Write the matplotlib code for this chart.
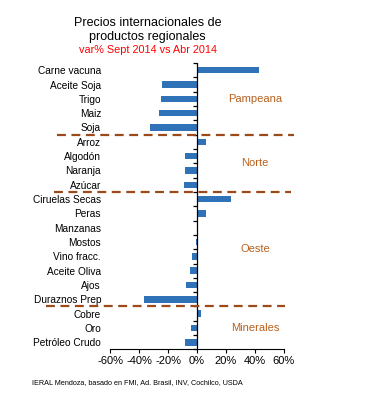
import numpy as np
import matplotlib
matplotlib.use('Agg')
import matplotlib.pyplot as plt

# data (var% Sept 2014 vs Abr 2014)
productos = ['Carne vacuna', 'Aceite Soja', 'Trigo', 'Maiz', 'Soja',
             'Arroz', 'Algodón', 'Naranja', 'Azúcar',
             'Ciruelas Secas', 'Peras', 'Manzanas', 'Mostos', 'Vino fracc.',
             'Aceite Oliva', 'Ajos', 'Duraznos Prep',
             'Cobre', 'Oro', 'Petróleo Crudo']
variacion = [42.5, -24, -25, -26.5, -32.5,
             6.5, -8, -8.5, -9,
             23.5, 6.5, 1, -0.5, -3.5,
             -5, -7.5, -36.5,
             3, -4, -8]
regiones = ['Pampeana', 'Norte', 'Oeste', 'Minerales']
region_size = [5, 4, 8, 3]
xticks = [-60, -40, -20, 0, 20, 40, 60]

plt.rcParams['font.family'] = ['Liberation Sans', 'DejaVu Sans']

fig = plt.figure(figsize=(3.72, 4.04), dpi=100)
ax = fig.add_axes([0.296, 0.135, 0.467, 0.709])

y = np.arange(len(productos))
ax.barh(y, variacion, height=0.45, color='#2F72B8')
ax.set_ylim(len(productos) - 0.5, -0.5)
ax.set_xlim(-60, 60)

# spines: only the zero line and the bottom axis
for s in ['top', 'right', 'left']:
    ax.spines[s].set_visible(False)
ax.spines['bottom'].set_linewidth(0.8)
ax.axvline(0, color='black', lw=0.9)

ax.set_xticks(xticks)
ax.set_xticklabels([f'{t}%' for t in xticks], fontsize=8)
ax.tick_params(axis='x', length=3, width=0.8, pad=2)

ax.set_yticks(y)
ax.set_yticklabels(productos, fontsize=7.3)
ax.tick_params(axis='y', length=0, pad=6.5)

# small tick marks on the zero line at category boundaries
bounds = np.arange(len(productos) + 1) - 0.5
ax.plot(np.full_like(bounds, -1.5), bounds, ls='none', marker='_',
        ms=3, mew=0.9, color='black', clip_on=False)

# region separators and labels
brown = '#9C4A1A'
sep_x = [(-97, 67), (-99, 65), (-104, 61)]
start = 0
for i, (reg, n) in enumerate(zip(regiones, region_size)):
    mid = start + (n - 1) / 2
    ax.text(40, mid, reg, color='#B8601E', fontsize=8, ha='center', va='center')
    start += n
    if i < len(sep_x):
        x0, x1 = sep_x[i]
        ax.plot([x0, x1], [start - 0.5, start - 0.5], color=brown, lw=1.6,
                ls=(0, (4, 2.5)), clip_on=False)

fig.text(0.397, 0.943, 'Precios internacionales de',
         ha='center', va='center', fontsize=9)
fig.text(0.397, 0.908, 'productos regionales',
         ha='center', va='center', fontsize=9)
fig.text(0.397, 0.876, 'var% Sept 2014 vs Abr 2014', color='red',
         ha='center', va='center', fontsize=7.8)
fig.text(0.086, 0.054, 'IERAL Mendoza, basado en FMI, Ad. Brasil, INV, Cochilco, USDA',
         fontsize=5.2, ha='left', va='center')

fig.savefig('out.png', dpi=100)
